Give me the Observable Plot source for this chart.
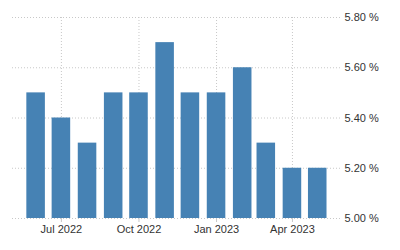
<!DOCTYPE html>
<html>
<head>
<meta charset="utf-8">
<script src="https://cdn.jsdelivr.net/npm/d3@7"></script>
<script src="https://cdn.jsdelivr.net/npm/@observablehq/plot@0.6"></script>
<style>
  html, body { margin: 0; padding: 0; background: #fff; }
  svg { display: block; }
</style>
</head>
<body>
<div id="chart"></div>
<script>
const months = ["2022-06-01","2022-07-01","2022-08-01","2022-09-01","2022-10-01","2022-11-01","2022-12-01","2023-01-01","2023-02-01","2023-03-01","2023-04-01","2023-05-01"];
const values = [5.5, 5.4, 5.3, 5.5, 5.5, 5.7, 5.5, 5.5, 5.6, 5.3, 5.2, 5.2];
const yTicks = [5.0, 5.2, 5.4, 5.6, 5.8];
const xTicks = ["2022-07-01","2022-10-01","2023-01-01","2023-04-01"];

const data = months.map((m, i) => ({date: new Date(m + "T00:00:00Z"), value: values[i]}));
const xTickDates = xTicks.map(s => new Date(s + "T00:00:00Z"));

const fmt = d3.utcFormat("%b %Y");
const grid = {stroke: "#c8c8c8", strokeOpacity: 1, strokeDasharray: "1,2"};

const chart = Plot.plot({
  width: 400,
  height: 250,
  marginLeft: 12,
  marginRight: 60,
  marginTop: 17,
  marginBottom: 32,
  style: {fontFamily: "'Liberation Sans', Arial, sans-serif", fontSize: "11px", color: "#333", background: "#fff"},
  x: {type: "utc", label: null, domain: [new Date("2022-05-04T00:00:00Z"), new Date("2023-05-28T00:00:00Z")]},
  y: {label: null, domain: [5.0, 5.8]},
  marks: [
    Plot.gridY(yTicks, {...grid}),
    Plot.gridX(xTickDates, {...grid}),
    Plot.rectY(data, {
      x1: d => d3.utcDay.offset(d.date, -11),
      x2: d => d3.utcDay.offset(d.date, 11),
      y1: 5.0,
      y2: "value",
      fill: "#4682b4"
    }),
    Plot.axisX(xTickDates, {label: null, tickFormat: fmt, tickSize: 4, tickPadding: 3, stroke: "#c8c8c8", fill: "#333", fontSize: 11}),
    Plot.axisY(yTicks, {label: null, anchor: "right", tickSize: 0, tickPadding: 4, tickFormat: d => d.toFixed(2) + " %", fill: "#333", fontSize: 11})
  ]
});
document.getElementById("chart").append(chart);
</script>
</body>
</html>
